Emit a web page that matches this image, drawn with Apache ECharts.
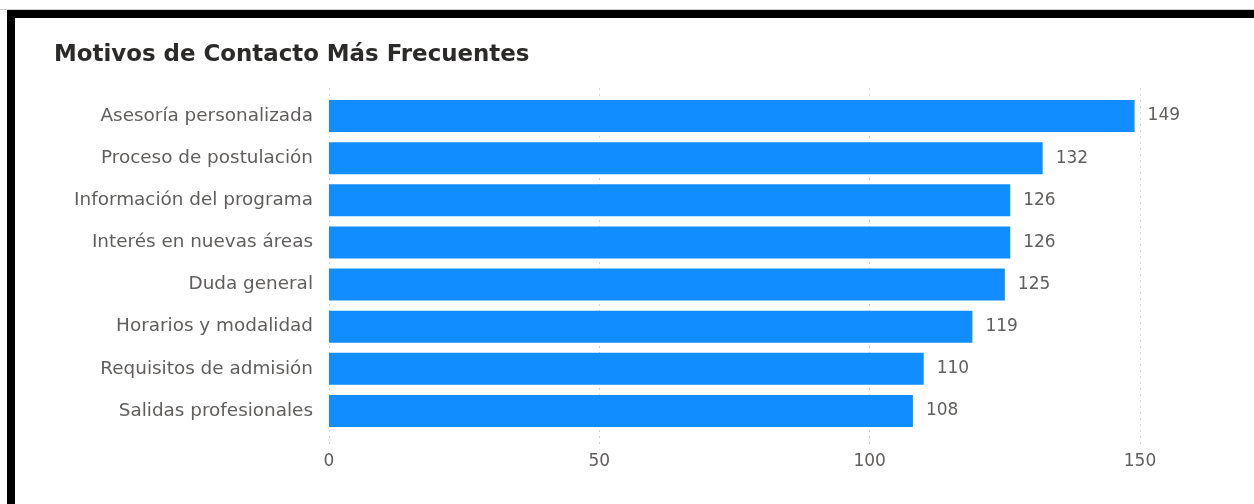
<!DOCTYPE html>
<html><head><meta charset="utf-8">
<script src="https://cdn.jsdelivr.net/npm/echarts@6/dist/echarts.min.js"></script>
<style>
html,body{margin:0;padding:0;background:#fff;}
#chart{position:absolute;left:0;top:0;width:1254px;height:504px;}
</style></head>
<body>
<div id="chart"></div>
<script>
const categories = ["Asesoría personalizada","Proceso de postulación","Información del programa","Interés en nuevas áreas","Duda general","Horarios y modalidad","Requisitos de admisión","Salidas profesionales"];
const values = [149,132,126,126,125,119,110,108];
const tickValues = [0,50,100,150];
const titleText = "Motivos de Contacto Más Frecuentes";

const chart = echarts.init(document.getElementById('chart'), null, {renderer:'canvas'});
const labelFont = "'DejaVu Sans', sans-serif";
chart.setOption({
  animation:false,
  backgroundColor:'#ffffff',
  title:{text:titleText,left:49,top:39,padding:5,textStyle:{fontFamily:"'DejaVu Sans', sans-serif",fontWeight:'bold',fontSize:22.9,color:'#2b2a29'}},
  graphic:[
    {type:'rect',shape:{x:0,y:9,width:1254,height:1},style:{fill:'#cfcfcf'},silent:true},
    {type:'rect',shape:{x:7,y:10,width:1247,height:8},style:{fill:'#000'},silent:true},
    {type:'rect',shape:{x:7,y:10,width:8,height:494},style:{fill:'#000'},silent:true}
  ],
  grid:[
    {left:329,right:114,top:95,bottom:72,containLabel:false},
    {left:329,right:114,top:88,bottom:59,containLabel:false}
  ],
  xAxis:[
    {gridIndex:0,type:'value',min:tickValues[0],max:tickValues[tickValues.length-1],interval:50,show:false},
    {gridIndex:1,type:'value',min:tickValues[0],max:tickValues[tickValues.length-1],interval:50,
     axisLine:{show:false},axisTick:{show:false},
     splitLine:{show:true,lineStyle:{color:'#d4d4d4',type:[2,4],width:1}},
     axisLabel:{color:'#605E5C',fontFamily:labelFont,fontSize:17,margin:8}}
  ],
  yAxis:[
    {gridIndex:0,type:'category',data:categories,inverse:true,
     axisLine:{show:false},axisTick:{show:false},
     axisLabel:{color:'#605E5C',fontFamily:labelFont,fontSize:18.4,margin:16}},
    {gridIndex:1,type:'category',data:[],show:false}
  ],
  series:[{
    type:'bar',xAxisIndex:0,yAxisIndex:0,data:values,barCategoryGap:'24%',
    itemStyle:{color:'#118DFF'},
    label:{show:true,position:'right',distance:13,color:'#605E5C',fontFamily:labelFont,fontSize:17}
  }]
});
</script>
</body></html>
